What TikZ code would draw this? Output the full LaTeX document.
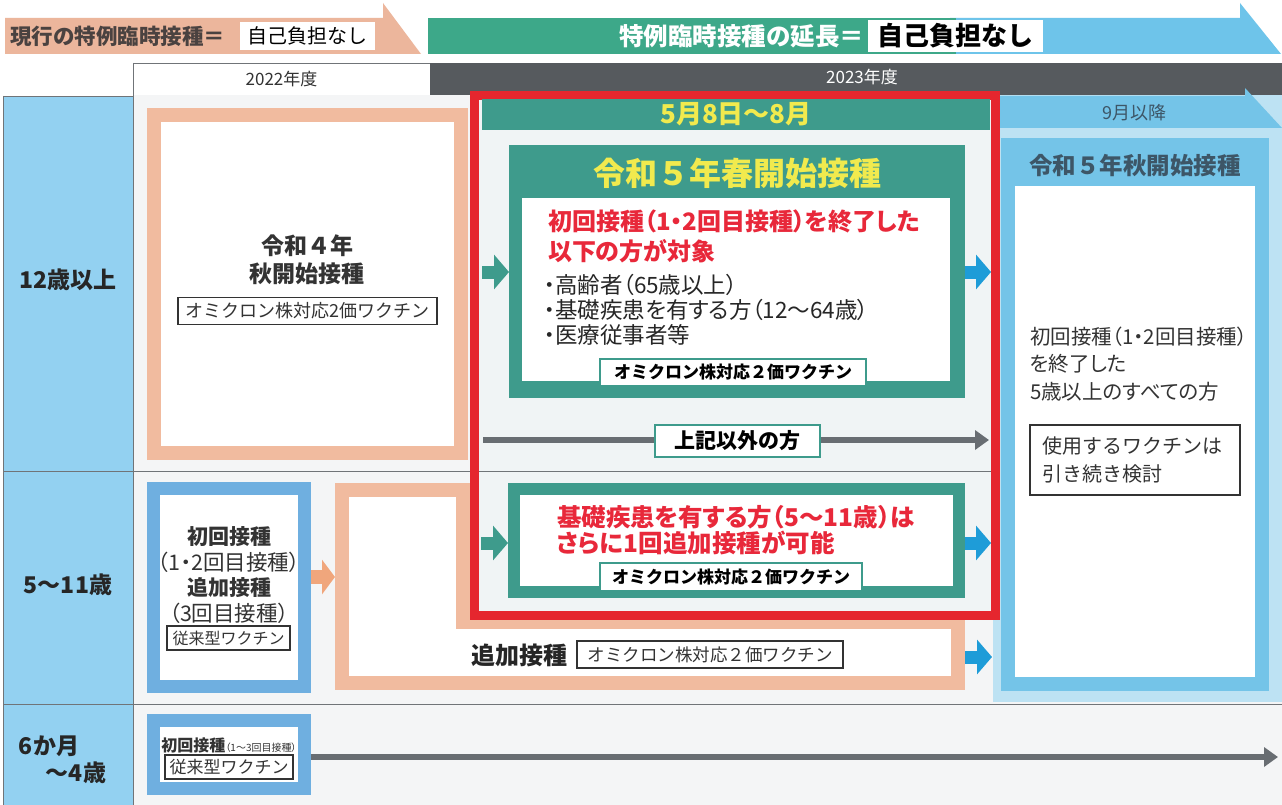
\documentclass[tikz,border=0pt]{standalone}
\usepackage{fontspec}
\setmainfont{Noto Sans CJK JP}
\newfontfamily\pj{Noto Sans CJK JP}[RawFeature=+palt]
\usetikzlibrary{arrows.meta}
\newcommand{\jfs}[2]{\fontsize{#1}{#2}\selectfont}
\definecolor{salmon}{HTML}{ECB69C}
\definecolor{salmonframe}{HTML}{F1BB9F}
\definecolor{hgreen}{HTML}{3DA889}
\definecolor{hblue}{HTML}{6EC4EA}
\definecolor{darkbar}{HTML}{565A5E}
\definecolor{agecol}{HTML}{93D1F1}
\definecolor{bgmain}{HTML}{F4F5F6}
\definecolor{redbg}{HTML}{F0F4F5}
\definecolor{redf}{HTML}{E5262E}
\definecolor{tealc}{HTML}{3E9B8C}
\definecolor{yel}{HTML}{F1EA4E}
\definecolor{bluef}{HTML}{6FAFE0}
\definecolor{rblue}{HTML}{74C4E8}
\definecolor{rbluebg}{HTML}{BDE2F3}
\definecolor{barr}{HTML}{1E9CD8}
\definecolor{oarr}{HTML}{F0A67C}
\definecolor{garr}{HTML}{686D72}
\definecolor{txt}{HTML}{333333}
\definecolor{hdrtxt}{HTML}{4A4240}
\definecolor{txtred}{HTML}{E8283A}
\definecolor{linec}{HTML}{707478}
\definecolor{ttl}{HTML}{3D5667}
\begin{document}
\begin{tikzpicture}[x=1pt,y=-1pt,
  every node/.style={inner sep=0pt, outer sep=0pt},
  oframe/.style={draw=salmonframe, line width=14pt, fill=white, outer sep=7pt},
  bframe/.style={draw=bluef, line width=13pt, fill=white, outer sep=6.5pt},
  lbl/.style={draw=txt, line width=1.1pt, fill=white, text=txt},
  tlbl/.style={draw=tealc, line width=2pt, fill=white, text=black, font=\jfs{17}{20}\bfseries},
  tarrow/.style={draw=tealc, line width=13pt, -{Triangle[length=15pt,width=34pt]}},
  barrow/.style={draw=barr, line width=13pt, -{Triangle[length=15pt,width=34pt]}},
  oarrow/.style={draw=oarr, line width=14pt, -{Triangle[length=13pt,width=34pt]}},
  garrow/.style={draw=garr, line width=6pt, -{Triangle[length=14pt,width=19pt]}},
  divline/.style={draw=linec, line width=0.9pt}
]
\useasboundingbox (0,0) rectangle (1282,805);
\fill[white] (0,0) rectangle (1282,805);

% ---------- header bands ----------
\fill[salmon] (5,18) -- (383,18) -- (383,3) -- (421,54) -- (5,54) -- cycle;
\node[anchor=west, font=\jfs{21.5}{24}\bfseries, text=hdrtxt] (curtxt) at (10,36) {現行の特例臨時接種＝};
\node[fill=white, minimum width=135, minimum height=28, font=\jfs{20}{22}, text=black] (curfree) at (307.5,36) {自己負担なし};

\fill[hblue] (950,18) -- (1240,18) -- (1240,3) -- (1281,54) -- (950,54) -- cycle;
\fill[hgreen] (428,18) rectangle (956,54);
\node[anchor=east, font=\jfs{24.5}{26}\bfseries, text=white] (exttxt) at (864,36) {特例臨時接種の延長＝};
\node[fill=white, minimum width=175, minimum height=32, font=\jfs{26}{28}\bfseries, text=black] (extfree) at (955.5,36) {自己負担なし};

% ---------- fiscal years ----------
\node[draw=linec, line width=0.8pt, fill=white, minimum width=297, minimum height=32, font=\jfs{17}{19}, text=txt] (fy22) at (281.5,79) {2022年度};
\node[fill=darkbar, minimum width=852, minimum height=32] (fy23) at (856,79) {};
\node[font=\jfs{17}{19}, text=white] (fy23t) at (862,77) {2023年度};

% ---------- main background ----------
\fill[bgmain] (133,95) rectangle (1282,805);
\fill[rbluebg] (993,95) rectangle (1282,702);
\fill[agecol] (3,96) rectangle (133,805);
\draw[divline] (3,96) -- (3,805);
\draw[divline] (3,96) -- (133,96);
\draw[divline] (133,63) -- (133,805);
\draw[divline] (3,704) -- (1282,704);

% age labels
\node[font=\jfs{23}{26}\bfseries, text=black!85] (age12) at (68,280) {12歳以上};
\node[font=\jfs{23}{26}\bfseries, text=black!85] (age5) at (68,585) {5～11歳};
\node[anchor=west, align=left, font=\jfs{23}{27}\bfseries, text=black!85] (age0) at (19,760) {6か月\\\hspace*{27pt}～4歳};

% ---------- 2022 box (12+) ----------
\node[oframe, minimum width=307, minimum height=338] (f2022) at (307.5,284) {};
\node[align=center, font=\jfs{23}{28}\bfseries, text=txt] (r4) at (307,260) {令和４年\\秋開始接種};
\node[lbl, minimum width=259, minimum height=27, font=\jfs{18}{20}] (r4vac) at (307.5,311) {オミクロン株対応2価ワクチン};

% ---------- 5-11 orange frame ----------
\node[oframe, minimum width=616, minimum height=193] (f511) at (650,586.5) {};
\fill[salmonframe] (456,483) rectangle (965,629);

% ---------- red frame ----------
\node[draw=redf, line width=9pt, fill=redbg, minimum width=521, minimum height=520] (redbox) at (735,355.5) {};
\draw[divline] (3,471) -- (470,471);
\draw[divline] (479,471) -- (991,471);
\node[fill=tealc, minimum width=508, minimum height=31, font=\jfs{26}{28}\bfseries, text=yel] (may) at (736,114.5) {5月8日～8月};

% spring box
\node[fill=tealc, minimum width=456, minimum height=253] (spring) at (737,271.5) {};
\node[font=\jfs{32}{34}\bfseries, text=yel] (springt) at (737,173) {令和５年春開始接種};
\node[fill=white, minimum width=428, minimum height=183] (springin) at (736,289.5) {};
\node[anchor=west, align=left, font=\pj\jfs{24}{30}\bfseries, text=txtred] (springred) at (548,236) {初回接種（1・2回目接種）を終了した\\以下の方が対象};
\node[anchor=west, align=left, font=\pj\jfs{22.5}{25}, text=black!85] (springlist) at (544,310) {・高齢者（65歳以上）\\・基礎疾患を有する方（12～64歳）\\・医療従事者等};
\node[tlbl, minimum width=266, minimum height=27] (springvac) at (733,372.5) {オミクロン株対応２価ワクチン};

% arrows (12+)
\coordinate (a1s) at (482,272);
\draw[tarrow] (a1s) -- (spring.west |- a1s);
\coordinate (b1e) at (991,272);
\draw[barrow] (spring.east |- b1e) -- (b1e);

% others arrow
\coordinate (g1s) at (483,440);
\coordinate (g1e) at (989,440);
\draw[garrow] (g1s) -- (g1e);
\node[tlbl, minimum width=165, minimum height=32, font=\jfs{21}{24}\bfseries] (others) at (737,441) {上記以外の方};

% 5-11 spring box
\node[draw=tealc, line width=12pt, fill=white, outer sep=6pt, minimum width=445, minimum height=103] (kid) at (736.5,540.5) {};
\node[anchor=west, align=left, font=\pj\jfs{24.5}{26}\bfseries, text=txtred] (kidred) at (557,530) {基礎疾患を有する方（5～11歳）は\\さらに1回追加接種が可能};
\node[tlbl, minimum width=262, minimum height=28] (kidvac) at (731,577) {オミクロン株対応２価ワクチン};
\coordinate (a2s) at (481,543);
\draw[tarrow] (a2s) -- (kid.west |- a2s);
\coordinate (b2e) at (991,543);
\draw[barrow] (kid.east |- b2e) -- (b2e);

% booster text
\node[font=\jfs{24}{26}\bfseries, text=black!85] (boost) at (519,655) {追加接種};
\node[lbl, minimum width=266, minimum height=27, font=\jfs{17.5}{20}] (boostvac) at (710,654.5) {オミクロン株対応２価ワクチン};
\coordinate (b3e) at (992,657);
\draw[barrow] (f511.east |- b3e) -- (b3e);

% 5-11 blue box
\node[bframe, minimum width=151, minimum height=198] (b511) at (229,587.5) {};
\node[align=center, font=\pj\jfs{21}{25.5}, text=txt] (b511t) at (229,575) {\textbf{初回接種}\\{\jfs{21.5}{25.5}（1・2回目接種）}\\\textbf{追加接種}\\{\jfs{21.5}{25.5}（3回目接種）}};
\node[lbl, minimum width=123, minimum height=24, font=\jfs{16}{18}] (b511vac) at (228.5,638) {従来型ワクチン};
\draw[oarrow] (b511.east |- 0,577) -- (f511.west |- 0,577);

% ---------- autumn column ----------
\fill[rblue] (1000,96) -- (1245,96) -- (1245,88) -- (1282,128) -- (1000,128) -- cycle;
\node[font=\jfs{18}{20}, text=ttl] (sep) at (1134,113) {9月以降};
\node[draw=rblue, line width=14pt, fill=white, minimum width=254, minimum height=539] (autumn) at (1135,414.5) {};
\fill[rblue] (1001,138) rectangle (1269,186);
\node[font=\jfs{23.5}{26}\bfseries, text=ttl] (autumnt) at (1135,166) {令和５年秋開始接種};
\node[anchor=west, align=left, font=\pj\jfs{20.5}{27.5}, text=txt] (autumntxt) at (1030,364) {初回接種（1・2回目接種）\\を終了した\\5歳以上のすべての方};
\node[lbl, minimum width=210, minimum height=70, text width=186, align=left, font=\jfs{20}{28}] (autumnvac) at (1135,460) {使用するワクチンは\\引き続き検討};

% ---------- 6 months - 4 years ----------
\node[bframe, minimum width=151, minimum height=68] (b04) at (229,754.5) {};
\node[font=\pj\jfs{16}{18}\bfseries, text=txt] (b04t) at (229,745) {初回接種{\mdseries\jfs{10}{11}（1～3回目接種）}};
\node[lbl, minimum width=128, minimum height=24, font=\jfs{17}{19}] (b04vac) at (229,767) {従来型ワクチン};
\coordinate (g2e) at (1278,757);
\draw[garrow] (b04.east |- g2e) -- (g2e);
\end{tikzpicture}
\end{document}
